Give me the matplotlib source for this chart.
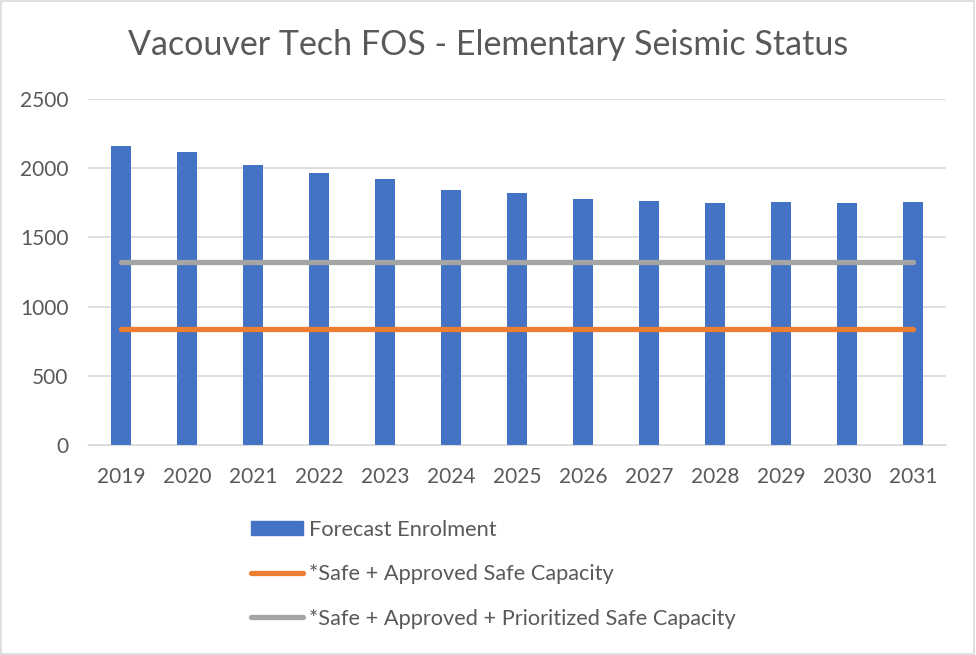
import numpy as np
import matplotlib
matplotlib.use('Agg')
import matplotlib.pyplot as plt
from matplotlib.patches import Rectangle
from matplotlib.lines import Line2D

plt.rcParams['font.family'] = ['Lato', 'DejaVu Sans']

years = ['2019', '2020', '2021', '2022', '2023', '2024', '2025',
         '2026', '2027', '2028', '2029', '2030', '2031']
enrolment = [2160, 2117, 2023, 1965, 1924, 1845, 1819,
             1777, 1763, 1746, 1753, 1748, 1756]
safe_approved = [840] * len(years)
safe_prioritized = [1322] * len(years)

labels = ['Forecast Enrolment', '*Safe + Approved Safe Capacity',
          '*Safe + Approved + Prioritized Safe Capacity']

fig = plt.figure(figsize=(9.76, 6.55), dpi=100)
ax = fig.add_axes([88/976, 1 - 445/655, 858/976, 346/655])

x = np.arange(len(years))
ax.bar(x, enrolment, width=0.31, color='#4472c4', zorder=2)
ax.plot(x, safe_approved, color='#ed7d31', lw=3.8, solid_capstyle='round', zorder=3)
ax.plot(x, safe_prioritized, color='#a5a5a5', lw=3.8, solid_capstyle='round', zorder=3)

ax.set_xlim(-0.5, len(years) - 0.5)
ax.set_ylim(0, 2500)
ax.set_yticks(range(0, 2501, 500))
ax.set_xticks(x)
ax.set_xticklabels(years)
ax.grid(axis='y', color='#d9d9d9', lw=1.2, zorder=0)
for s in ax.spines.values():
    s.set_visible(False)
ax.spines['bottom'].set_visible(True)
ax.spines['bottom'].set_color('#d9d9d9')
ax.tick_params(length=0, labelsize=15, colors='#595959')
ax.tick_params(axis='x', pad=16)
ax.tick_params(axis='y', pad=14)

fig.text(0.5, 1 - 45/655, 'Vacouver Tech FOS - Elementary Seismic Status',
         ha='center', va='center', fontsize=24.5, color='#595959')

handles = [Rectangle((0, 0), 1, 1, color='#4472c4'),
           Line2D([], [], color='#ed7d31', lw=3.8, solid_capstyle='round'),
           Line2D([], [], color='#a5a5a5', lw=3.8, solid_capstyle='round')]
leg = fig.legend(handles, labels, loc='upper left', bbox_to_anchor=(231/976, 1 - 500/655),
                 frameon=False, fontsize=15.7, handlelength=2.4, handleheight=0.64,
                 labelspacing=1.13, handletextpad=0.27, labelcolor='#595959')

fig.patches.append(Rectangle((0.001, 0.001), 0.997, 0.997, transform=fig.transFigure,
                             fill=False, edgecolor='#d9d9d9', lw=1.2))

plt.savefig('out.png', dpi=100)
